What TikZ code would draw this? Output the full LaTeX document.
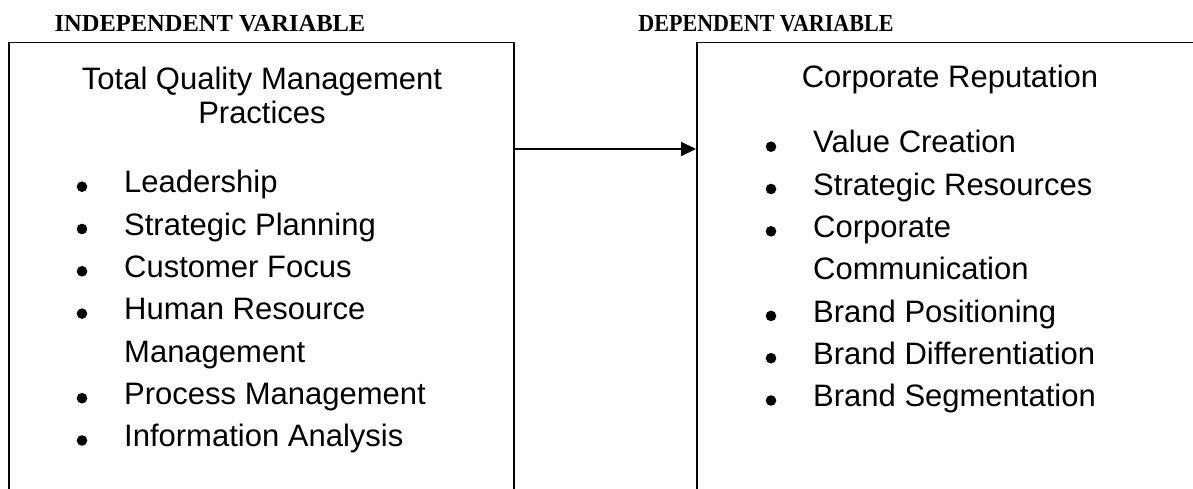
\documentclass[tikz,border=0pt]{standalone}
\usepackage{fontspec}
\setmainfont{Liberation Sans}
\newfontfamily\headfont{Liberation Serif}
\usetikzlibrary{arrows.meta}

\tikzset{
  varbox/.style={draw, line width=1.5pt, minimum width=505pt, minimum height=480pt, anchor=north west, inner sep=0pt},
  headlabel/.style={anchor=base, inner sep=0pt, font={\headfont\bfseries\fontsize{24.5}{28}\selectfont}},
  boxtitle/.style={anchor=base, inner sep=0pt, align=center, font={\fontsize{31}{34}\selectfont}},
  itemtext/.style={anchor=base west, inner sep=0pt, font={\fontsize{31}{37}\selectfont}},
  linkarrow/.style={line width=2pt, -{Triangle[length=15pt,width=14pt]}}
}

\begin{document}
\begin{tikzpicture}[x=1pt,y=1pt]
\useasboundingbox (0,0) rectangle (1193,488);
\clip (0,0) rectangle (1193,488);

% variable labels
\node[headlabel] (indep) at (210,456) {INDEPENDENT VARIABLE};
\node[headlabel] (dep) at (766,456) {\scalebox{0.9}[1]{DEPENDENT VARIABLE}};

% the two boxes
\node[varbox] (tqm) at (8,446) {};
\node[varbox] (rep) at (696,446) {};

% base of a two-line title is its last line
\node[boxtitle] (tqmtitle) at (262,364) {Total Quality Management\\Practices};
\node[boxtitle] (reptitle) at (950,400) {Corporate Reputation};

% lists
\foreach \txt [count=\i] in {Leadership, Strategic Planning, Customer Focus, Human Resource,
    Management, Process Management, Information Analysis}
  \node[itemtext] (tqm\i) at (124,{295-42.3*(\i-1)}) {\txt};
\foreach \i in {1,2,3,4,6,7}
  \fill ([shift={(-42pt,6.3pt)}]tqm\i.base west) circle [radius=5.3pt];

\foreach \txt [count=\i] in {Value Creation, Strategic Resources, Corporate, Communication,
    Brand Positioning, Brand Differentiation, Brand Segmentation}
  \node[itemtext] (rep\i) at (813,{335-42.3*(\i-1)}) {\txt};
\foreach \i in {1,2,3,5,6,7}
  \fill ([shift={(-42pt,6.3pt)}]rep\i.base west) circle [radius=5.3pt];

% link
\coordinate (mid) at (600,339);
\draw[linkarrow] (tqm.east |- mid) -- (rep.west |- mid);
\end{tikzpicture}
\end{document}
